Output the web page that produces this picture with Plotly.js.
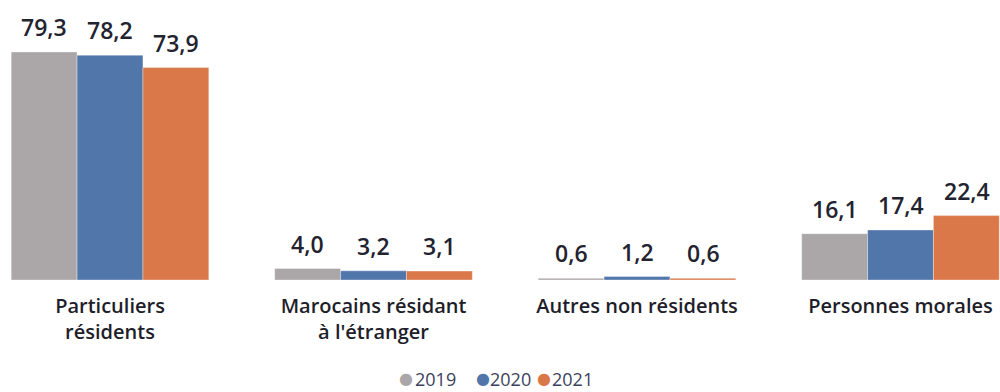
<!DOCTYPE html>
<html>
<head>
<meta charset="utf-8">
<script src="https://cdn.plot.ly/plotly-3.0.1.min.js"></script>
<style>html,body{margin:0;padding:0;background:#fff;}#chart{width:1000px;height:392px;}</style>
</head>
<body>
<div id="chart"></div>
<script>
const categories = ["Particuliers<br>résidents", "Marocains résidant<br>à l'étranger", "Autres non résidents", "Personnes morales"];
const years = ["2019", "2020", "2021"];
const values2019 = [79.3, 4.0, 0.6, 16.1];
const values2020 = [78.2, 3.2, 1.2, 17.4];
const values2021 = [73.9, 3.1, 0.6, 22.4];
const colors = ["#ABA6A7", "#5177AA", "#DA7849"];

const series = [values2019, values2020, values2021];
const xIdx = categories.map((c, i) => i);
const fmt = v => v.toFixed(1).replace(".", ",");
const FONT = "Open Sans, sans-serif";

const traces = series.map((vals, s) => ({
  type: "bar",
  name: years[s],
  x: xIdx,
  y: vals,
  showlegend: false,
  marker: {color: colors[s], line: {color: "rgba(255,255,255,0.35)", width: 1}},
  hoverinfo: "none"
}));

const annotations = [];
series.forEach((vals, s) => {
  vals.forEach((v, i) => {
    annotations.push({
      x: i, y: v, xref: "x", yref: "y",
      xshift: (s - 1) * 66, yshift: 7,
      yanchor: "bottom", showarrow: false,
      text: fmt(v),
      font: {family: FONT, size: 23, color: "#23232f", weight: 600}
    });
  });
});

// legend built as text entries with coloured circles
const legendCircleX = [0.406, 0.4825, 0.5435];
const legendTextX = [0.414, 0.489, 0.551];
const legendY = -0.355;
years.forEach((yr, s) => {
  annotations.push({
    x: legendCircleX[s], y: legendY, xref: "paper", yref: "paper",
    xanchor: "center", yanchor: "middle", showarrow: false, yshift: 1,
    text: "●", borderpad: 0,
    font: {family: "DejaVu Sans, sans-serif", size: 16, color: colors[s]}
  });
  annotations.push({
    x: legendTextX[s], y: legendY, xref: "paper", yref: "paper",
    xanchor: "left", yanchor: "middle", showarrow: false,
    text: yr, borderpad: 0,
    font: {family: FONT, size: 18, color: "#3c3f5e"}
  });
});

const layout = {
  width: 1000, height: 392,
  margin: {l: 0, r: 0, t: 0, b: 112},
  paper_bgcolor: "#ffffff", plot_bgcolor: "#ffffff",
  barmode: "group", bargap: 0.25, bargroupgap: 0,
  xaxis: {
    range: [-0.4175, 3.3776], automargin: false,
    tickmode: "array", tickvals: xIdx, ticktext: categories,
    ticks: "outside", ticklen: 8, tickcolor: "rgba(0,0,0,0)",
    showgrid: false, zeroline: false, showline: false,
    tickfont: {family: FONT, size: 20, color: "#1e1e2a", weight: 600}
  },
  yaxis: {range: [0, 97.4], visible: false, showgrid: false, zeroline: false, automargin: false},
  showlegend: false,
  annotations: annotations
};

Plotly.newPlot("chart", traces, layout, {staticPlot: true});
</script>
</body>
</html>
